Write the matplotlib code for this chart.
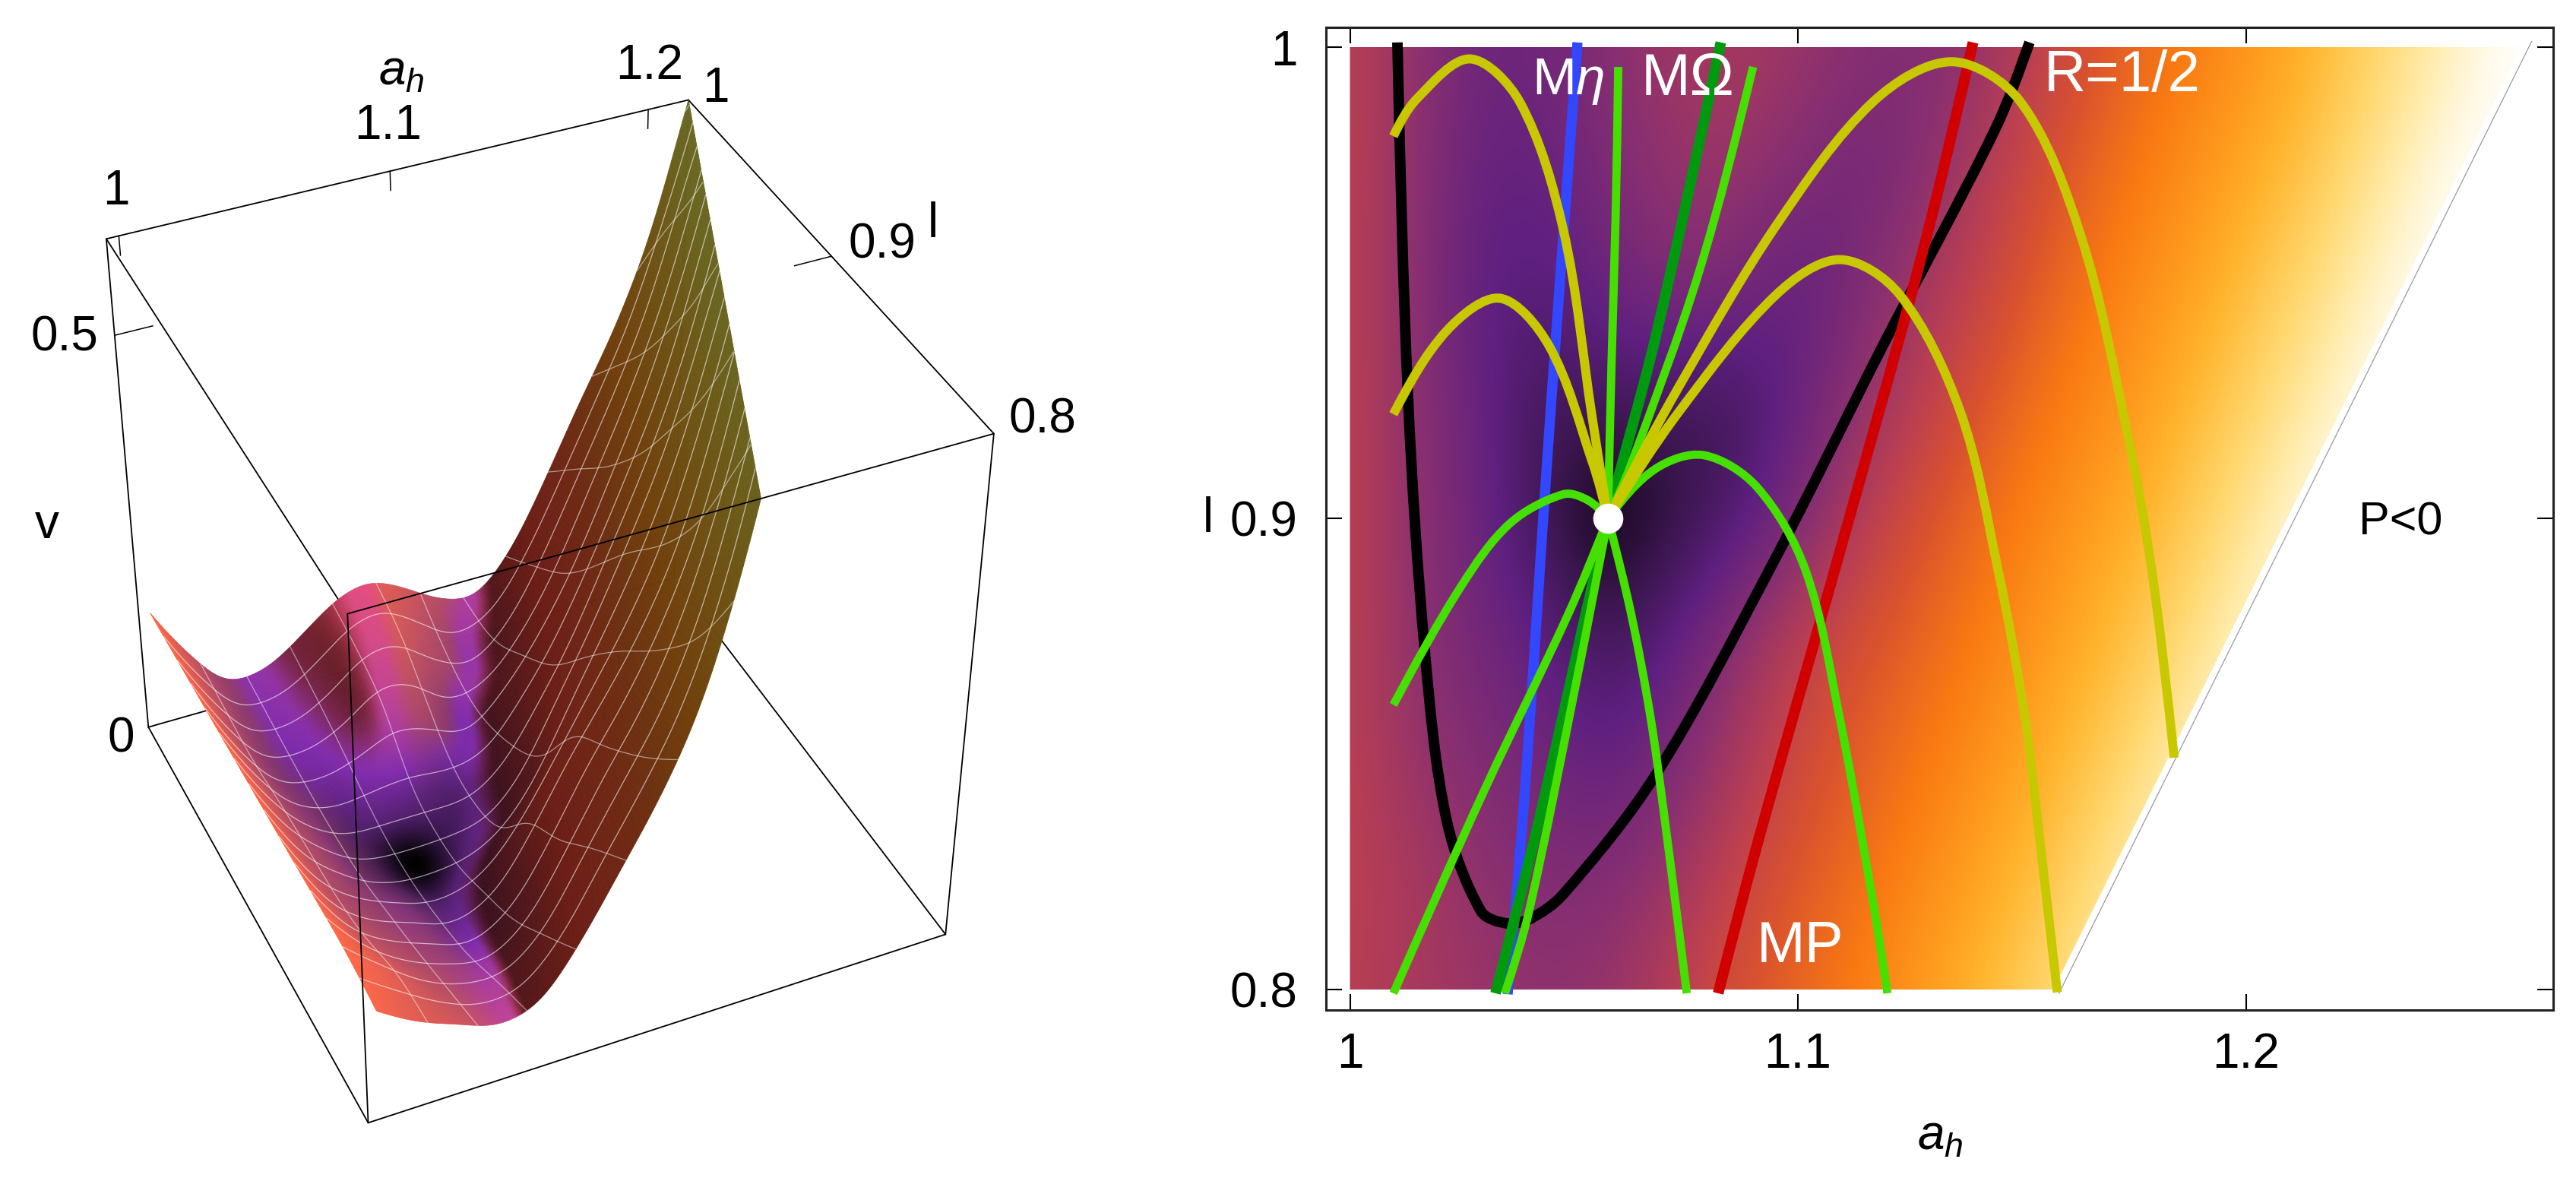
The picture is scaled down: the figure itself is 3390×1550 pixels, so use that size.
import numpy as np
import matplotlib
matplotlib.use("Agg")
import matplotlib.pyplot as plt
from matplotlib.colors import LinearSegmentedColormap
from matplotlib.collections import PolyCollection
from matplotlib.path import Path
from matplotlib.patches import PathPatch, Polygon

plt.rcParams['font.family'] = ['Liberation Sans', 'DejaVu Sans']
plt.rcParams['mathtext.fontset'] = 'custom'
plt.rcParams['mathtext.rm'] = 'Liberation Sans'
plt.rcParams['mathtext.it'] = 'Liberation Sans:italic'

# ---------- colour level, on a regular (a_h, l) grid
AH_STEP = 0.0144
L_ROWS = [0.8, 0.825, 0.85, 0.875, 0.9, 0.925, 0.95, 0.975, 1.0]
T_080 = [.46,.42,.39,.36,.38,.46,.54,.605,.67,.75,.825,.89,.97,1,1,1,1,1,1,1]
T_0825 = [.47,.42,.36,.32,.32,.39,.49,.565,.625,.695,.78,.845,.92,.99,1,1,1,1,1,1]
T_085 = [.47,.38,.32,.27,.22,.30,.42,.52,.585,.65,.72,.805,.87,.945,1,1,1,1,1,1]
T_0875 = [.47,.36,.28,.22,.13,.22,.36,.47,.545,.605,.67,.75,.825,.89,.97,1,1,1,1,1]
T_090 = [.47,.36,.26,.12,.00,.08,.18,.32,.46,.555,.63,.70,.78,.845,.92,.99,1,1,1,1]
T_0925 = [.47,.36,.24,.14,.15,.14,.13,.25,.38,.48,.575,.65,.72,.805,.87,.945,1,1,1,1]
T_095 = [.47,.35,.22,.20,.26,.33,.30,.22,.32,.42,.51,.60,.675,.75,.83,.89,.97,1,1,1]
T_0975 = [.47,.36,.24,.24,.31,.38,.39,.33,.27,.35,.46,.555,.63,.70,.78,.845,.92,.99,1,1]
T_100 = [.47,.37,.26,.27,.34,.40,.42,.39,.34,.32,.40,.50,.585,.65,.72,.805,.875,.945,1,1]
T_ROWS = [T_080, T_0825, T_085, T_0875, T_090, T_0925, T_095, T_0975, T_100]

# ---------- curves in the (a_h, l) plane
BLACK_A = [1.0106,1.0130,1.0168,1.0216,1.0292,1.0346,1.0400,1.0476,1.0682,1.0936,1.119,1.1439,1.1517]
BLACK_L = [1.001,.9251,.8709,.8359,.8167,.8141,.8149,.8202,.8455,.889,.9367,.9823,1.001]
BLUE_A = [1.0508,1.0444,1.0389,1.0352]
BLUE_L = [1.001,.9174,.8403,.799]
RED_A = [1.1391,1.1277,1.1082,1.0909,1.0822]
RED_L = [1.001,.956,.889,.8307,.7992]
DKGREEN_A = [1.0828,1.0682,1.0576,1.0422,1.0325]
DKGREEN_L = [1.001,.9383,.9,.8359,.7992]
GREEN_LINES = [
    ([1.0599,1.0593,1.0584,1.0576], [.9958,.9637,.9329,.9]),
    ([1.09,1.0779,1.0627,1.0576], [.9958,.9522,.9113,.9]),
    ([1.0576,1.0508,1.04,1.0346], [.9,.8665,.8167,.7992]),
    ([1.0576,1.0487,1.0303,1.0097], [.9,.8796,.8429,.7992]),
    ([1.0097,1.0249,1.0357,1.0476,1.053,1.0576], [.8604,.8857,.8989,.9051,.9039,.9]),
    ([1.0576,1.0628,1.0671,1.0703,1.0752], [.9,.8796,.8578,.8359,.7992]),
    ([1.0576,1.0682,1.079,1.0909,1.1017,1.1093,1.1168,1.12], [.9,.9105,.9134,.9066,.889,.8578,.8184,.7992]),
]
YELLOW_LINES = [
    ([1.0097,1.0151,1.0268,1.0379,1.0476,1.0541,1.0576], [.9811,.9892,.9975,.9884,.9614,.9213,.9]),
    ([1.0097,1.0216,1.0335,1.0444,1.0541,1.0576], [.9221,.9398,.9467,.9367,.912,.9]),
    ([1.0576,1.0736,1.0952,1.1168,1.1343,1.1497,1.1632,1.1737,1.179,1.184],
     [.9,.9282,.9622,.9884,.9969,.9884,.9599,.9174,.889,.8492]),
    ([1.0576,1.0736,1.0952,1.1093,1.1227,1.1362,1.1447,1.1507,1.1535,1.1579],
     [.9,.9228,.9475,.9549,.9475,.9228,.889,.8578,.8359,.7994]),
]
SADDLE = (1.0576, 0.9)
DOMAIN_A = [1.0, 1.157, 1.2615, 1.0]
DOMAIN_L = [0.8, 0.8, 1.0, 1.0]
EDGE_A = [1.1583, 1.2638]
EDGE_L = [0.7992, 1.0012]
TICKS_A = [1.0, 1.1, 1.2]
TICKS_L = [0.8, 0.9, 1.0]

# ---------- 3D box and its picture corners (full-size pixels)
A0, A1 = 0.9955, 1.216
L_FAR, L_NEAR = 1.0, 0.8
V_TOP = 0.611
CORNERS_TOP = [(140, 314), (906, 132), (1308, 570), (457, 808)]
CORNERS_BOTTOM = [(195, 957), (887, 760), (1244, 1230), (485, 1477)]
MESH_N = 15

W, H = 3390, 1550
SUNSET = LinearSegmentedColormap.from_list('sunset', [
    (0, '#000000'), (.12, '#3c1650'), (.22, '#5f2080'), (.35, '#8a3070'), (.47, '#bd4050'),
    (.55, '#d9522f'), (.65, '#f97a12'), (.75, '#ffa020'), (.8, '#ffb52e'), (.88, '#ffd870'),
    (.94, '#ffedb0'), (1, '#ffffff')], N=1024)

fig = plt.figure(figsize=(W / 100, H / 100), dpi=100, facecolor='white')


def text(x, y, s, size, color='black', ha='left', va='baseline', **kw):
    fig.text(x / W, 1 - y / H, s, fontsize=size, color=color, ha=ha, va=va, zorder=50, **kw)


# ---------- helpers
def smooth_path(xs, ys):
    scale = np.array([5895.0, 6200.0])
    q = np.column_stack([xs, ys]).astype(float) * scale
    d = np.linalg.norm(np.diff(q, axis=0), axis=1)
    m = np.zeros_like(q)
    for i in range(1, len(q) - 1):
        m[i] = (q[i + 1] - q[i - 1]) / (d[i - 1] + d[i])
    m[0] = (q[1] - q[0]) / d[0]
    m[-1] = (q[-1] - q[-2]) / d[-1]
    if len(q) > 2:
        m[0] = 1.5 * m[0] - 0.5 * m[1]
        m[-1] = 1.5 * m[-1] - 0.5 * m[-2]
    verts, codes = [q[0]], [Path.MOVETO]
    for i in range(len(q) - 1):
        verts += [q[i] + m[i] * d[i] / 3, q[i + 1] - m[i + 1] * d[i] / 3, q[i + 1]]
        codes += [Path.CURVE4] * 3
    return Path(np.array(verts) / scale, codes)


def upsample(arr, n, axis):
    arr = np.moveaxis(arr, axis, 0)
    N = arr.shape[0]
    pos = np.linspace(0, N - 1, (N - 1) * n + 1)
    i = np.minimum(pos.astype(int), N - 2)
    u = (pos - i).reshape((-1,) + (1,) * (arr.ndim - 1))
    ext = np.concatenate([[2 * arr[0] - arr[1]], arr, [2 * arr[-1] - arr[-2]]])
    p0, p1, p2, p3 = ext[i], ext[i + 1], ext[i + 2], ext[i + 3]
    out = 0.5 * (2 * p1 + (p2 - p0) * u + (2 * p0 - 5 * p1 + 4 * p2 - p3) * u ** 2 + (3 * p1 - p0 - 3 * p2 + p3) * u ** 3)
    return np.moveaxis(out, 0, axis)


def soften(arr, half, axis):
    kernel = np.concatenate([np.arange(1, half + 2), np.arange(half, 0, -1)]).astype(float)
    kernel /= kernel.sum()
    pad = [(0, 0), (0, 0)]
    pad[axis] = (half, half)
    ext = np.pad(arr, pad, mode='reflect', reflect_type='odd')
    return np.apply_along_axis(lambda r: np.convolve(r, kernel, mode='valid'), axis, ext)


# ---------- right panel
T = np.array(T_ROWS)
ah_nodes = 1 + AH_STEP * np.arange(T.shape[1])
dl = L_ROWS[1] - L_ROWS[0]

ax = fig.add_axes([1745 / W, (H - 1329) / H, (3360 - 1745) / W, (1329 - 36) / H])
im = ax.imshow(T, origin='lower', cmap=SUNSET, vmin=0, vmax=1, aspect='auto',
               extent=[1 - AH_STEP / 2, ah_nodes[-1] + AH_STEP / 2, 0.8 - dl / 2, 1 + dl / 2],
               interpolation='bicubic', interpolation_stage='data')
clip = Polygon(np.column_stack([DOMAIN_A, DOMAIN_L]), closed=True, transform=ax.transData)
im.set_clip_path(clip)
ax.set_xlim(1 - 31.5 / 5895, 1 + (3360 - 1776.5) / 5895)
ax.set_ylim(0.8 - 27 / 6200, 1 + 26 / 6200)
ax.plot(EDGE_A, EDGE_L, color='#9a9a9a', lw=0.9, zorder=2)


def curve(xs, ys, color, lw, z):
    ax.add_patch(PathPatch(smooth_path(xs, ys), fill=False, edgecolor=color, lw=lw,
                           capstyle='butt', joinstyle='round', zorder=z, clip_on=False))


curve(BLACK_A, BLACK_L, 'black', 10, 3)
curve(BLUE_A, BLUE_L, '#3347ff', 9.6, 4)
curve(RED_A, RED_L, '#d00000', 10.2, 5)
curve(DKGREEN_A, DKGREEN_L, '#009a0f', 10, 6)
for xs, ys in GREEN_LINES:
    curve(xs, ys, '#45e000', 7.8, 7)
for xs, ys in YELLOW_LINES:
    curve(xs, ys, '#c8c800', 8.6, 8)
ax.plot(*SADDLE, 'o', ms=28.5, mfc='white', mec='none', zorder=9)

ax.set_xticks(TICKS_A, ['1', '1.1', '1.2'])
ax.set_yticks(TICKS_L, ['0.8', '0.9', '1'])
ax.tick_params(direction='in', length=15, width=1.5, top=True, right=True, labelsize=46, colors='black')
ax.tick_params(axis='x', pad=21)
ax.tick_params(axis='y', pad=27)
for s in ax.spines.values():
    s.set_linewidth(2.2)
    s.set_color('#222222')

text(2553, 1513, r'$a_h$', 46, ha='center')
text(1590, 683, 'l', 46, ha='center', va='center')
text(2016, 124, r'M$\eta$', 50, color='white')
text(2160, 125, 'MΩ', 56, color='white')
text(2690, 120, 'R=1/2', 55, color='white')
text(2312, 1266, 'MP', 55, color='white')
text(3104, 703, 'P<0', 44)

# ---------- left panel: projected surface
ax3 = fig.add_axes([0, 0, 1700 / W, 1])
ax3.set_xlim(0, 1700)
ax3.set_ylim(H, 0)
ax3.axis('off')

# projective camera fitted to the eight box corners
cube = [(0, 0, 1), (1, 0, 1), (1, 1, 1), (0, 1, 1), (0, 0, 0), (1, 0, 0), (1, 1, 0), (0, 1, 0)]
pix = CORNERS_TOP + CORNERS_BOTTOM
rows, rhs = [], []
for (X, Y, Z), (x, y) in zip(cube, pix):
    rows.append([X, Y, Z, 1, 0, 0, 0, 0, -x * X, -x * Y, -x * Z]); rhs.append(x)
    rows.append([0, 0, 0, 0, X, Y, Z, 1, -y * X, -y * Y, -y * Z]); rhs.append(y)
P = np.linalg.lstsq(np.array(rows, float), np.array(rhs, float), rcond=None)[0]


def project(a, l, v):
    X = (np.asarray(a, float) - A0) / (A1 - A0)
    Y = (L_FAR - np.asarray(l, float)) / (L_FAR - L_NEAR)
    Z = np.asarray(v, float) / V_TOP
    w = P[8] * X + P[9] * Y + P[10] * Z + 1
    return (P[0] * X + P[1] * Y + P[2] * Z + P[3]) / w, (P[4] * X + P[5] * Y + P[6] * Z + P[7]) / w


# height from colour level (the density plot and the surface show one function)
N_UP = 16
T_fine = np.clip(upsample(upsample(T, N_UP, 0), N_UP, 1), 0, 1)
a_fine = np.linspace(ah_nodes[0], ah_nodes[-1], T_fine.shape[1])
l_fine = np.linspace(0.8, 1.0, T_fine.shape[0])
V_fine = 0.61 * (T_fine / 0.8) ** 2.64
V_soft = soften(soften(V_fine, 10, 1), 10, 0)
dV_da = np.gradient(V_soft, a_fine, axis=1)


def sample(F, a, l):
    a, l = np.asarray(a, float), np.asarray(l, float)
    fa = np.clip((a - a_fine[0]) / (a_fine[1] - a_fine[0]), 0, len(a_fine) - 1.001)
    fl = np.clip((l - l_fine[0]) / (l_fine[1] - l_fine[0]), 0, len(l_fine) - 1.001)
    i, j = fa.astype(int), fl.astype(int)
    u, w = fa - i, fl - j
    return (F[j, i] * (1 - u) * (1 - w) + F[j, i + 1] * u * (1 - w) +
            F[j + 1, i] * (1 - u) * w + F[j + 1, i + 1] * u * w)


# the surface leaves the top of the box where the height reaches V_TOP
right_part = a_fine > 1.09
crossing = np.array([a_fine[right_part][np.argmax(r[right_part] >= V_TOP)] for r in V_soft])
cut_fit = np.polyfit(l_fine, crossing, 2)


def cut(l):
    return np.polyval(cut_fit, l) - 0.006 * (1 - np.asarray(l)) / 0.2


def surf_v(a, l):
    c = cut(l)
    s = np.clip((np.asarray(a) - 1) / (c - 1), 0, 1)
    return np.minimum(sample(V_soft, a, l) + (V_TOP - sample(V_soft, c, l)) * s ** 10, V_TOP)


ns, nl = 210, 170
s_v = np.linspace(1, 0, ns + 1)          # far to near: a descending
l_v = np.linspace(1.0, 0.8, nl + 1)      # far to near: l descending
S, LL = np.meshgrid(s_v, l_v)
AA = 1 + S * (cut(LL) - 1)
VV = surf_v(AA, LL)
PX, PY = project(AA, LL, VV)
Ac = 0.25 * (AA[:-1, :-1] + AA[1:, :-1] + AA[:-1, 1:] + AA[1:, 1:])
Lc = 0.25 * (LL[:-1, :-1] + LL[1:, :-1] + LL[:-1, 1:] + LL[1:, 1:])
tc = sample(T_fine, Ac, Lc)
g = sample(dV_da, Ac, Lc)
g_eff = np.where(g > 0, g * (1 + 1.2 * np.clip((0.9 - Lc) / 0.1, 0, 1)), g)
st = np.clip((g_eff - 0.9) / (3.2 - 0.9), 0, 1)
st = st * st * (3 - 2 * st)
shade = 0.47 + 0.88 * (1 - st)
rgb = SUNSET(tc)[..., :3] * shade[..., None]
tint = np.clip(-g / 1.5, 0, 1)
warm = st * np.clip((0.6 - tc) / 0.15, 0, 1)
rgb[..., 0] *= 1 + 0.25 * warm
rgb[..., 1] *= 1 + 0.2 * tint
rgb[..., 2] *= (1 - 0.35 * tint) * (1 - 0.5 * warm)
# the cap of the right flank turns towards olive
olive = st * np.clip((tc - 0.58) / 0.2, 0, 1)
rgb[..., 0] *= 1 - 0.12 * olive
rgb[..., 1] *= 1 + 0.22 * olive
rgb[..., 2] *= 1 + 0.6 * olive
rgb = np.clip(rgb, 0, 1)
verts = np.stack([np.stack([PX[:-1, :-1], PY[:-1, :-1]], -1), np.stack([PX[:-1, 1:], PY[:-1, 1:]], -1),
                  np.stack([PX[1:, 1:], PY[1:, 1:]], -1), np.stack([PX[1:, :-1], PY[1:, :-1]], -1)], axis=2)

BOX = {k: project(a, l, v) for k, (a, l, v) in {
    'A': (A0, L_FAR, V_TOP), 'B': (A1, L_FAR, V_TOP), 'C': (A1, L_NEAR, V_TOP), 'D': (A0, L_NEAR, V_TOP),
    'E': (A0, L_FAR, 0), 'F': (A1, L_FAR, 0), 'G': (A1, L_NEAR, 0), 'H': (A0, L_NEAR, 0)}.items()}


def edge(p, q, z):
    ax3.plot([BOX[p][0], BOX[q][0]], [BOX[p][1], BOX[q][1]], color='black', lw=1.3, zorder=z, solid_capstyle='round')


for e in ['AB', 'BC', 'AD', 'AE', 'BF', 'EF', 'FG', 'EH', 'HG', 'CG']:
    edge(e[0], e[1], 1)
for e in ['CD', 'DH']:
    edge(e[0], e[1], 6)

ax3.add_collection(PolyCollection(verts.reshape(-1, 4, 2), facecolors=rgb.reshape(-1, 3),
                                  edgecolors=rgb.reshape(-1, 3), linewidths=0.5, zorder=3))

# mesh lines
for k in range(1, MESH_N):
    la = np.linspace(0.8, 1.0, 400)
    aa = np.full_like(la, 1 + k * (1.2686 - 1) / MESH_N)
    keep = aa < cut(la)
    x, y = project(aa, la, surf_v(aa, la))
    x, y = np.where(keep, x, np.nan), np.where(keep, y, np.nan)
    ax3.plot(x, y, color='white', alpha=0.5, lw=0.9, zorder=4)

    lv = 0.8 + k * 0.2 / MESH_N
    aa = np.linspace(1.0, float(cut(lv)), 500)
    la = np.full_like(aa, lv)
    x, y = project(aa, la, surf_v(aa, la))
    ax3.plot(x, y, color='white', alpha=0.6, lw=0.9, zorder=4)

# axis ticks of the box
for a in TICKS_A:
    x, y = project([a, a], [L_FAR, L_FAR], [V_TOP, V_TOP - 0.022])
    ax3.plot(x, y, color='black', lw=1.1, zorder=2)
x, y = project([A1, A1 - 0.014], [0.9, 0.9], [V_TOP, V_TOP])
ax3.plot(x, y, color='black', lw=1.1, zorder=2)
x, y = project([A0, A0 + 0.014], [L_FAR, L_FAR], [0.5, 0.5])
ax3.plot(x, y, color='black', lw=1.1, zorder=2)

for x, y, s in [(153, 252, '1'), (511, 166, '1.1'), (855, 87, '1.2'), (942, 117, '1'),
                (1161, 322, '0.9'), (1372, 553, '0.8'), (85, 444, '0.5'), (159, 972, '0')]:
    text(x, y, s, 46, ha='center', va='center')
text(498, 112, r'$a_h$', 46)
text(1228, 295, 'l', 46, ha='center', va='center')
text(62, 691, 'v', 46, ha='center', va='center')

fig.savefig('out.png', dpi=100, facecolor='white')
